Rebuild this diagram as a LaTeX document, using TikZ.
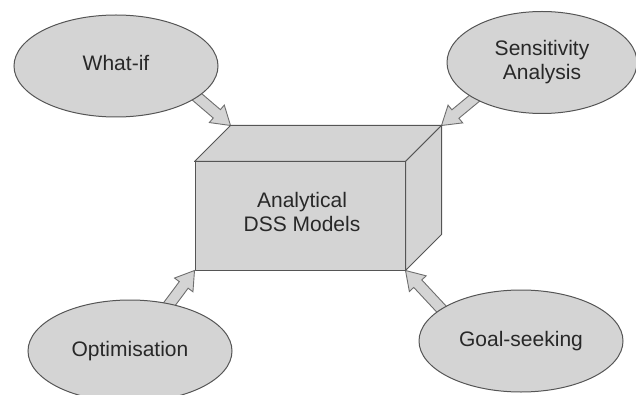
\documentclass[tikz,border=0pt]{standalone}
\usepackage{fontspec}
\setmainfont{Liberation Sans}
\usetikzlibrary{calc,shapes.geometric}

\definecolor{shade}{RGB}{212,212,212}
\definecolor{edge}{RGB}{85,85,85}
\definecolor{arrowedge}{RGB}{110,110,110}
\definecolor{ink}{RGB}{40,40,40}

\pgfdeclarelayer{bg}
\pgfsetlayers{bg,main}

% Broad block arrow from #1 (start, on a border) to #2 (tip)
\newcommand\blockarrow[2]{%
  \coordinate (ba-s) at ($(#1)!6pt!180:(#2)$);
  \coordinate (ba-t) at (#2);
  \coordinate (ba-b) at ($(ba-t)!18pt!(ba-s)$);
  \draw[barrow]
    ($(ba-s)!5.5pt!90:(ba-t)$) -- ($(ba-b)!5.5pt!90:(ba-t)$) --
    ($(ba-b)!11.5pt!90:(ba-t)$) -- (ba-t) --
    ($(ba-b)!11.5pt!-90:(ba-t)$) -- ($(ba-b)!5.5pt!-90:(ba-t)$) --
    ($(ba-s)!5.5pt!-90:(ba-t)$) -- cycle;
}

\begin{document}
\begin{tikzpicture}[x=1pt,y=-1pt,
  txt/.style={text=ink, align=center, font=\fontsize{21}{24}\selectfont},
  bubble/.style={txt, ellipse, draw=edge, fill=shade, line width=1pt,
    inner sep=0pt, minimum width=204pt, minimum height=102pt},
  face/.style={draw=edge, fill=shade, line width=1pt, line join=round},
  barrow/.style={draw=arrowedge, fill=shade, line width=0.9pt, line join=miter}]
\useasboundingbox (0,0) rectangle (636,395);
\clip (0,0) rectangle (636,395);

% the box: front face and its receding top and side
\node[face, rectangle, inner sep=0pt, minimum width=210pt, minimum height=108pt]
  (front) at (300,216) {};
\coordinate (btl) at ($(front.north west)+(36,-36)$);
\coordinate (btr) at ($(front.north east)+(36,-36)$);
\coordinate (bbr) at ($(front.south east)+(36,-36)$);
\draw[face] (front.north west) -- (btl) -- (btr) -- (front.north east) -- cycle;
\draw[face] (front.north east) -- (btr) -- (bbr) -- (front.south east) -- cycle;
\node[txt] (boxtext) at (302,211.5) {Analytical\\DSS Models};

% the four techniques
\node[bubble, text depth=5.3pt] (whatif) at (116,66) {What-if};
\node[bubble, minimum width=190pt] (sens) at (542,62.5) {Sensitivity\\Analysis};
\node[bubble] (optim) at (130,351) {Optimisation};
\node[bubble] (goal) at (521,341) {Goal-seeking};

% arrows into the box
\begin{pgfonlayer}{bg}
  \blockarrow{whatif.-21.8}{btl}
  \blockarrow{sens.208.6}{btr}
  \blockarrow{optim.50.9}{front.south west}
  \blockarrow{goal.158.7}{front.south east}
\end{pgfonlayer}
\end{tikzpicture}
\end{document}
